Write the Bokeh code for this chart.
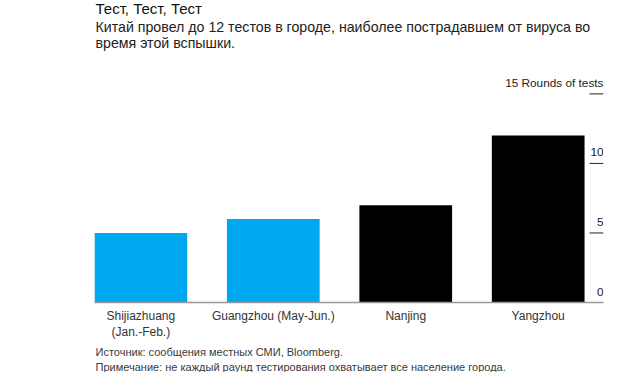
import numpy as np
from bokeh.plotting import figure
from bokeh.models import (ColumnDataSource, Range1d, LinearAxis, FixedTicker, Label, Title)
from bokeh.core.properties import value
from bokeh.embed import file_html
from bokeh.resources import INLINE

# ---- data ----
categories = ["Shijiazhuang\n(Jan.-Feb.)", "Guangzhou (May-Jun.)", "Nanjing", "Yangzhou"]
rounds = [5, 6, 7, 12]
bar_colors = ["#00a8f0", "#00a8f0", "#000000", "#000000"]
y_ticks = [0, 5, 10, 15]
y_tick_labels = ["0", "5", "10", "15 Rounds of tests"]

title_text = "Тест, Тест, Тест"
subtitle_lines = ["Китай провел до 12 тестов в городе, наиболее пострадавшем от вируса во",
                  "время этой вспышки."]
source_lines = ["Источник: сообщения местных СМИ, Bloomberg.",
                "Примечание: не каждый раунд тестирования охватывает все население города."]

FONT = "Liberation Sans"
xpos = list(range(len(categories)))
bar_w = 0.7
x_start = -bar_w / 2
x_end = xpos[-1] + bar_w / 2 + 0.143

W, H = 612, 372
BL, BR, BT, BB = 94, 9, 0, 68
frame_h = H - BT - BB          # 304 px
px_per_unit = 14.0
y_end = frame_h / px_per_unit

p = figure(width=W, height=H, output_backend="svg", toolbar_location=None,
           x_range=Range1d(x_start, x_end), y_range=Range1d(0, y_end),
           x_axis_type=None, y_axis_type=None, title=None,
           min_border_left=BL, min_border_right=BR, min_border_top=BT, min_border_bottom=BB)
p.outline_line_color = None
p.xgrid.visible = False
p.ygrid.visible = False
p.background_fill_color = "white"
p.border_fill_color = "white"

src = ColumnDataSource(dict(x=xpos, top=rounds, color=bar_colors))
p.vbar(x="x", top="top", width=bar_w, fill_color="color", line_color=None, source=src)

# bottom axis
xaxis = LinearAxis(ticker=FixedTicker(ticks=xpos),
                   major_label_overrides={i: c for i, c in zip(xpos, categories)})
xaxis.axis_line_color = "#999999"
xaxis.axis_line_width = 1.5
xaxis.major_tick_line_color = None
xaxis.minor_tick_line_color = None
xaxis.major_tick_out = 0
xaxis.major_tick_in = 0
xaxis.major_label_standoff = 6
xaxis.major_label_text_font = FONT
xaxis.major_label_text_font_size = "12px"
xaxis.major_label_text_color = "#333333"
p.add_layout(xaxis, "below")

# source notes under the axis
for i, line in enumerate(source_lines):
    p.add_layout(Title(text=line, align="left", offset=1, standoff=2 if i == 0 else 0,
                       text_font=FONT, text_font_size="11px", text_font_style="normal",
                       text_color="#3a3a3a"), "below")

# right-side tick labels and tick marks (Bloomberg style, inside the plot)
tick_src = ColumnDataSource(dict(x=[x_end] * len(y_ticks), y=y_ticks, text=y_tick_labels))
p.text(x="x", y="y", text="text", source=tick_src, text_align="right",
       text_baseline="alphabetic", y_offset=-11, text_font=value(FONT),
       text_font_size="11.8px", text_color="#222222")
mark_src = ColumnDataSource(dict(x=[x_end] * (len(y_ticks) - 1), y=y_ticks[1:]))
p.ray(x="x", y="y", length=14, length_units="screen", angle=np.pi,
      line_color="#222222", line_width=1, source=mark_src)

# title and subtitle (screen units inside the frame)
def add_label(text, sx, sy, size, color):
    p.add_layout(Label(x=sx, y=sy, x_units="screen", y_units="screen", text=text,
                       text_font=FONT, text_font_size=size, text_color=color,
                       text_baseline="alphabetic", text_align="left"))

add_label(title_text, 1, frame_h - 9.5, "15px", "#111111")
add_label(subtitle_lines[0], 1, frame_h - 28, "14.2px", "#222222")
add_label(subtitle_lines[1], 1, frame_h - 44.7, "14.2px", "#222222")

open("out.html", "w").write(file_html(p, INLINE))
